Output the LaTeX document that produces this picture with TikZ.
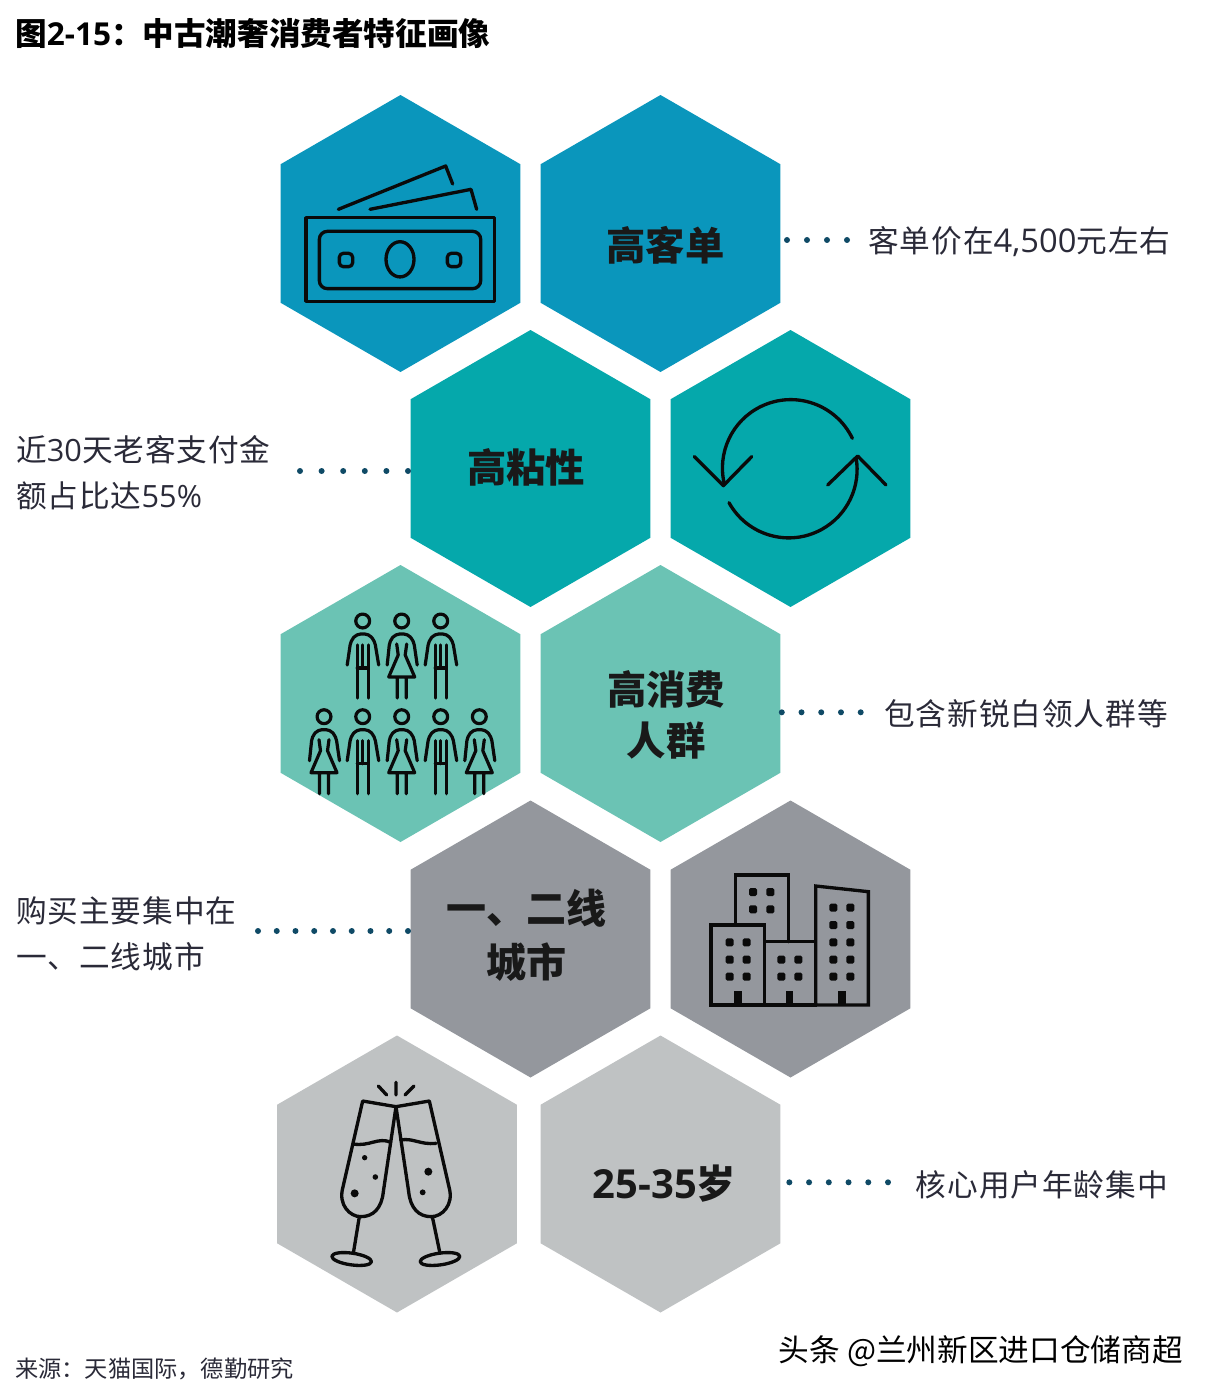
\documentclass[tikz,border=0pt]{standalone}
\usepackage{fontspec}
\setmainfont{Noto Sans CJK SC}[LetterSpace=3]
\newfontfamily\cjkplain{Noto Sans CJK SC}
\newfontfamily\latin{Open Sans}
\usetikzlibrary{shapes.geometric}
\definecolor{hexblue}{HTML}{0A96BC}
\definecolor{hexteal}{HTML}{05A8AB}
\definecolor{hexmint}{HTML}{6BC3B4}
\definecolor{hexgrey}{HTML}{94979D}
\definecolor{hexpale}{HTML}{BFC2C3}
\definecolor{dotblue}{HTML}{0F4A66}
\definecolor{labelink}{HTML}{2A2A38}
\definecolor{iconink}{HTML}{0A0A0A}
\tikzset{
	hextext/.style={align=center,text=black!90,inner sep=0pt,font=\cjkplain\bfseries\fontsize{29.5}{38.25}\selectfont},
	sidetext/.style={align=left,text=labelink,inner sep=0pt,font=\fontsize{23}{34.5}\selectfont},
	dotline/.style={draw=dotblue,line cap=round,line width=4.5pt,dash pattern=on 0pt off #1},
	iconline/.style={draw=iconink,line width=2.5pt,line join=round,line cap=round},
	man/.pic={
		\draw[iconline,line width=2.4pt] (0,0) circle (5.2pt);
		\draw[iconline,line width=2.4pt,rounded corners=3pt] (-15.5,44) -- (-12,20) -- (-6,13) -- (6,13) -- (12,20) -- (16,44);
		\draw[iconline,line width=2.4pt] (-5.5,24) -- (-5.5,77) (5.5,24) -- (5.5,77) (0,24) -- (0,47) (-5.5,47) -- (5.5,47);
	},
	woman/.pic={
		\draw[iconline,line width=2.4pt] (0,0) circle (5.2pt);
		\draw[iconline,line width=2.4pt,rounded corners=3pt] (-14.5,44) -- (-12,20) -- (-6,13) -- (6,13) -- (12,20) -- (15.5,44);
		\draw[iconline,line width=2.4pt] (-5,23) -- (-3.5,34) -- (-13,56) -- (13,56) -- (3.5,34) -- (5,23) (-4.5,56) -- (-4.5,77) (4.5,56) -- (4.5,77);
	},
}
\begin{document}
\begin{tikzpicture}[x=0.75pt,y=-0.75pt]
	\useasboundingbox (0,0) rectangle (1210,1394);
	\begin{scope}[every node/.style={regular polygon,regular polygon sides=6,regular polygon rotate=30,minimum size=207.75pt,inner sep=0pt,outer sep=0pt}]
	\node[fill=hexblue] (h1) at (400.5,233.5){};
	\node[fill=hexblue] (h2) at (660.5,233.5){};
	\node[fill=hexteal] (h3) at (530.5,468.5){};
	\node[fill=hexteal] (h4) at (790.5,468.5){};
	\node[fill=hexmint] (h5) at (400.5,703.5){};
	\node[fill=hexmint] (h6) at (660.5,703.5){};
	\node[fill=hexgrey] (h7) at (530.5,939){};
	\node[fill=hexgrey] (h8) at (790.5,939){};
	\node[fill=hexpale] (h9) at (397,1174){};
	\node[fill=hexpale] (h10) at (660.5,1174){};
	\end{scope}
	% texts in the hexagons
	\node[hextext] (t1) at (665.5,245) {高客单};
	\node[hextext] (t2) at (526,467) {高粘性};
	\node[hextext] (t3) at (666,715) {高消费\\人群};
	\node[hextext,font=\cjkplain\bfseries\fontsize{30}{40.5}\selectfont] (t4) at (526,935) {一、二线\\城市};
	\node[hextext] (t5) at (664.5,1184) {{\latin\fontsize{30}{38}\selectfont 25-35}岁};
	% side texts
	\node[anchor=west,inner sep=0pt,text=black,font=\cjkplain\bfseries\fontsize{23.7}{28}\selectfont] (title) at (15,34) {图{\latin 2-15}：中古潮奢消费者特征画像};
	\node[sidetext,anchor=west] (l1) at (868,242) {客单价在{\latin\fontsize{24.5}{34.5}\selectfont 4,500}元左右};
	\node[sidetext,anchor=west] (l2) at (16,473) {近{\latin 30}天老客支付金\\额占比达{\latin 55\%}};
	\node[sidetext,anchor=east] (l3) at (1168,713.5) {包含新锐白领人群等};
	\node[sidetext,anchor=west] (l4) at (16,933.5) {购买主要集中在\\一、二线城市};
	\node[sidetext,anchor=east] (l5) at (1168,1184.5) {核心用户年龄集中};
	\node[anchor=west,inner sep=0pt,text=labelink,font=\cjkplain\fontsize{17.4}{22}\selectfont] (src) at (15,1369) {来源：天猫国际，德勤研究};
	\node[anchor=east,inner sep=0pt,text=black,font=\cjkplain\fontsize{23}{26}\selectfont] (mark) at (1183,1351) {头条 @兰州新区进口仓储商超};
	% dots
	\coordinate (c1) at (847,240);
	\coordinate (c2) at (300,471);
	\coordinate (c3) at (860.7,712.3);
	\coordinate (c4) at (258,931);
	\coordinate (c5) at (888,1182.3);
	\draw[dotline=15pt] (c1) -- (h2.east |- c1);
	\draw[dotline=16.2pt] (c2) -- (h3.west |- c2);
	\draw[dotline=14.8pt] (c3) -- (h6.east |- c3);
	\draw[dotline=14.06pt] (c4) -- (h7.west |- c4);
	\draw[dotline=14.8pt] (c5) -- (h10.east |- c5);
	% banknotes
	\begin{scope}[shift={(270,90)},x=0.25pt,y=-0.25pt]
	\draw[iconline] (108,383) rectangle (674,634);
	\draw[iconline,rounded corners=6pt] (148,424) rectangle (632,596);
	\draw[iconline] (390,508) ellipse [x radius=10.5pt,y radius=13.2pt];
	\draw[iconline,rounded corners=3pt] (208,490) rectangle (248,530);
	\draw[iconline,rounded corners=3pt] (532,490) rectangle (572,530);
	\draw[iconline] (205,358) -- (527,228) -- (548,282);
	\draw[iconline] (300,358) -- (603,298) -- (620,358);
	\end{scope}
	% circular arrows
	\begin{scope}[shift={(665,330)},x=0.25pt,y=-0.25pt]
	\draw[iconline] (562,325) arc [start angle=25.7,end angle=194,radius=51.25pt];
	\draw[iconline] (192,518) arc [start angle=209,end angle=370,radius=51.25pt];
	\draw[iconline] (88,380) -- (175,467) -- (260,380);
	\draw[iconline] (488,465) -- (578,378) -- (663,465);
	\end{scope}
	% people
	\foreach \px in {362.7,440.7} \pic at (\px,621) {man};
	\foreach \px in {362.7,440.7} \pic at (\px,716.7) {man};
	\pic at (401.7,621) {woman};
	\foreach \px in {324,401.7,479.3} \pic at (\px,716.7) {woman};
	% buildings
	\begin{scope}[shift={(665,800)},x=0.25pt,y=-0.25pt]
	\draw[iconline,line join=miter] (212,372) -- (212,225) -- (370,225) -- (370,425);
	\draw[iconline,line join=miter] (138,375) rectangle (298,615);
	\draw[iconline,line join=miter] (298,425) rectangle (452,615);
	\draw[iconline,line join=miter] (452,615) -- (452,258) -- (610,275) -- (610,615) -- cycle;
	\foreach \wx/\wy in {264/276,316/276,264/328,316/328,194/427,245/427,194/479,245/479,194/530,245/530,349/479,400/479,349/530,400/530,505/323,556/323,505/375,556/375,505/427,556/427,505/479,556/479,505/530,556/530}
	\fill[iconink,rounded corners=1.2pt] (\wx-12,\wy-12) rectangle (\wx+12,\wy+12);
	\foreach \wx in {219,374,531}
	\fill[iconink] (\wx-11,572) rectangle (\wx+11,615);
	\end{scope}
	% glasses
	\begin{scope}[shift={(270,1035)},x=0.25pt,y=-0.25pt]
	\draw[iconline] (278,198) -- (378,215) -- (340,470) .. controls (335,520) and (310,545) .. (272,545) .. controls (240,545) and (205,510) .. (218,460) -- cycle;
	\draw[iconline] (478,198) -- (378,215) -- (416,470) .. controls (421,520) and (446,545) .. (484,545) .. controls (516,545) and (551,510) .. (538,460) -- cycle;
	\draw[iconline] (250,327) .. controls (300,335) and (325,305) .. (362,322);
	\draw[iconline] (392,315) .. controls (430,308) and (450,330) .. (498,325);
	\draw[iconline] (268,545) -- (250,655);
	\draw[iconline] (487,545) -- (510,655);
	\draw[iconline,rotate around={-8:(245,672)}] (245,672) ellipse [x radius=15pt,y radius=4.4pt];
	\draw[iconline,rotate around={8:(510,672)}] (510,672) ellipse [x radius=15pt,y radius=4.4pt];
	\draw[iconline] (378,142) -- (378,180) (325,153) -- (350,180) (432,153) -- (405,180);
	\fill[iconink] (284,368) circle (2pt) (316,426) circle (2.1pt) (254,475) circle (3pt) (475,410) circle (3pt) (458,472) circle (2.2pt);
	\end{scope}
\end{tikzpicture}
\end{document}
